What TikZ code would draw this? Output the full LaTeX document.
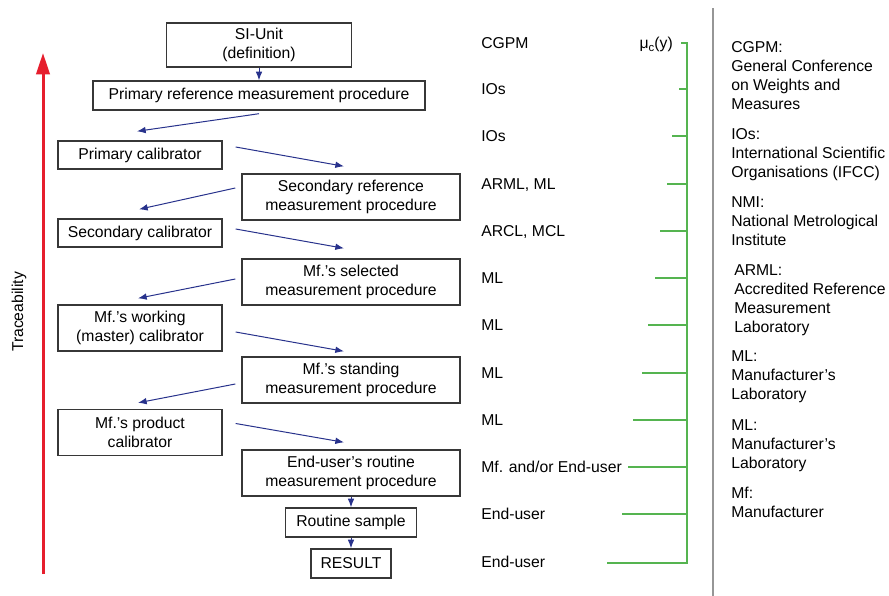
\documentclass[tikz,border=0pt]{standalone}
\usepackage{fontspec}
\setmainfont{Liberation Sans}
\usetikzlibrary{arrows.meta,calc}
\definecolor{flowblue}{RGB}{40,50,140}
\definecolor{tracered}{RGB}{230,30,45}
\definecolor{ucgreen}{RGB}{85,180,80}
\definecolor{boxgray}{RGB}{55,55,55}
\definecolor{rulegray}{RGB}{150,150,150}
\tikzset{
  txt/.style={font=\fontsize{11.8}{14.25}\selectfont},
  stage/.style={txt, draw=boxgray, line width=1.05pt, align=center, inner sep=0pt},
  calbox/.style={stage, minimum width=123pt, minimum height=21pt},
  calboxii/.style={stage, minimum width=123pt, minimum height=34.5pt},
  procbox/.style={stage, minimum width=163.5pt, minimum height=34.5pt},
  flow/.style={draw=flowblue, line width=0.75pt, -{Latex[length=6.5pt,width=5pt]}},
  who/.style={txt, anchor=base west, inner sep=0pt},
  gloss/.style={txt, anchor=north west, align=left, inner sep=0pt},
  budget/.style={draw=ucgreen, line width=1.5pt},
}

\begin{document}
\begin{tikzpicture}[x=0.75pt, y=-0.75pt]
		%%%%% START %%%%%
		\useasboundingbox (0, 0) rectangle (889, 596);
		
		% traceability arrow
		\draw[tracered, line width=2.25pt, -{Triangle[length=16pt,width=10pt]}] (43, 574) -- (43, 53);
		\node[txt, rotate=90] (trace) at (19, 312) {Traceability};
		
		% the chain of procedures and calibrators
		\node[stage, minimum width=139pt, minimum height=33pt] (siunit) at (259, 45) {SI-Unit\\(definition)};
		\node[stage, minimum width=249pt, minimum height=21.75pt] (prm) at (259, 95.5) {Primary reference measurement procedure};
		\node[calbox] (pcal) at (140, 155) {Primary calibrator};
		\node[procbox] (srm) at (351, 197) {Secondary reference\\measurement procedure};
		\node[calbox] (scal) at (140, 233) {Secondary calibrator};
		\node[procbox] (selmp) at (351, 282) {Mf.'s selected\\measurement procedure};
		\node[calboxii] (wcal) at (140, 328) {Mf.'s working\\(master) calibrator};
		\node[procbox] (stdmp) at (351, 380) {Mf.'s standing\\measurement procedure};
		\node[calboxii] (prodcal) at (140, 432.5) {Mf.'s product\\calibrator};
		\node[procbox] (usermp) at (351, 473) {End-user's routine\\measurement procedure};
		\node[stage, minimum width=98pt, minimum height=21.75pt] (sample) at (351, 522.5) {Routine sample};
		\node[stage, minimum width=60pt, minimum height=21.75pt] (result) at (351, 563.5) {RESULT};
		
		\draw[flow] (siunit) -- (prm);
		\draw[flow] ($(prm.south)+(0, 3)$) -- ($(pcal.north)+(-3, -9)$);
		\draw[flow] ($(pcal.east)+(13, -8)$) -- ($(srm.north)+(-7, -7)$);
		\draw[flow] ($(srm.west)+(-6, -9)$) -- ($(scal.north)+(-1, -9)$);
		\draw[flow] ($(scal.east)+(13, -4)$) -- ($(selmp.north)+(-7, -10)$);
		\draw[flow] ($(selmp.west)+(-6, -3)$) -- ($(wcal.north)+(-2, -6)$);
		\draw[flow] ($(wcal.east)+(13, 4)$) -- ($(stdmp.north)+(-7, -5)$);
		\draw[flow] ($(stdmp.west)+(-6, 4)$) -- ($(prodcal.north)+(-2, -6)$);
		\draw[flow] ($(prodcal.east)+(13, -9)$) -- ($(usermp.north)+(-7, -7)$);
		\draw[flow] (usermp) -- (sample);
		\draw[flow] (sample) -- (result);
		
		% who carries each step
		\node[who] (w1) at (481, 48.5) {CGPM};
		\node[who] (w2) at (481, 94.5) {IOs};
		\node[who] (w3) at (481, 141.5) {IOs};
		\node[who] (w4) at (481, 189.5) {ARML, ML};
		\node[who] (w5) at (481, 236) {ARCL, MCL};
		\node[who] (w6) at (481, 283.5) {ML};
		\node[who] (w7) at (481, 330.5) {ML};
		\node[who] (w8) at (481, 378.5) {ML};
		\node[who] (w9) at (481, 425.5) {ML};
		\node[who] (w10) at (481, 472.5) {Mf. and/or End-user};
		\node[who] (w11) at (481, 519.5) {End-user};
		\node[who] (w12) at (481, 567.5) {End-user};
		
		% growing combined uncertainty
		\node[txt, anchor=base east, inner sep=0pt] (uc) at (673, 48) {μ\raisebox{-0.45ex}{\fontsize{8.5}{9}\selectfont c}(y)};
		\draw[budget] (681, 43) -- (687, 43) -- (687, 563) -- (607, 563);
		\foreach \y/\x in {89/679, 136/672, 184/667, 231/660, 278/655, 325/648, 373/642, 420/633, 467/628, 514/622}
			\draw[budget] (\x, \y) -- (687, \y);
		
		% abbreviations
		\draw[rulegray, line width=1.5pt] (713, 8) -- (713, 596);
		\node[gloss] (g1) at (731, 41.5) {CGPM:\\General Conference\\on Weights and\\Measures};
		\node[gloss] (g2) at (731, 128.5) {IOs:\\International Scientific\\Organisations (IFCC)};
		\node[gloss] (g3) at (731, 196.5) {NMI:\\National Metrological\\Institute};
		\node[gloss] (g4) at (734, 264.5) {ARML:\\Accredited Reference\\Measurement\\Laboratory};
		\node[gloss] (g5) at (731, 350.5) {ML:\\Manufacturer's\\Laboratory};
		\node[gloss] (g6) at (731, 419.5) {ML:\\Manufacturer's\\Laboratory};
		\node[gloss] (g7) at (731, 486.5) {Mf:\\Manufacturer};
		
		%%%%% END %%%%%
	\end{tikzpicture}
\end{document}
